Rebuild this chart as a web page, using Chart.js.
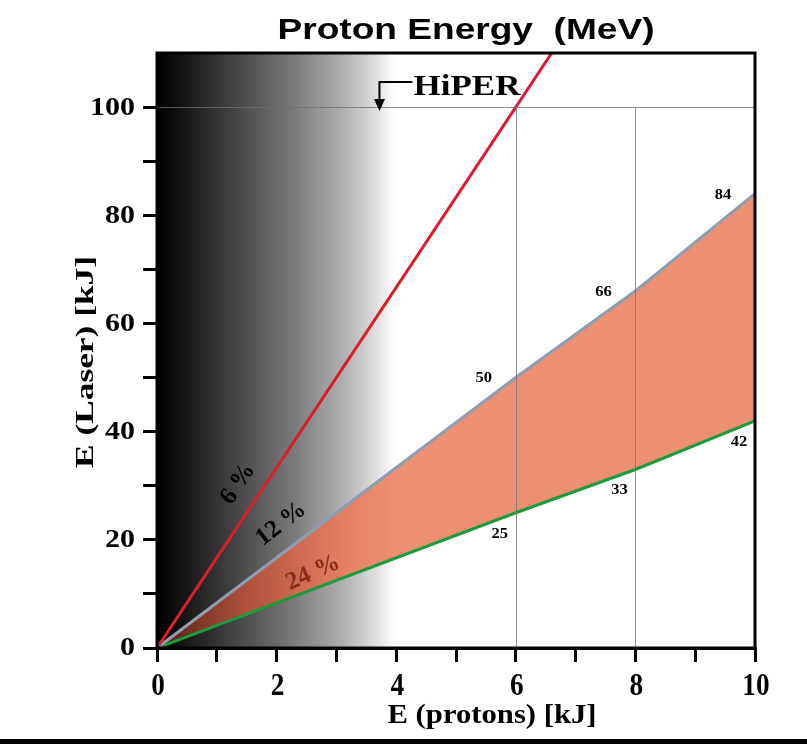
<!DOCTYPE html>
<html>
<head>
<meta charset="utf-8">
<script src="https://cdn.jsdelivr.net/npm/chart.js@4/dist/chart.umd.min.js"></script>
<style>
  html, body { margin: 0; padding: 0; background: #fff; }
  canvas { display: block; }
</style>
</head>
<body>
<canvas id="c" width="807" height="744"></canvas>
<script>
// Proton energy (kJ) on the x axis, laser energy (kJ) on the y axis
const protons = [0, 6, 8, 10];
const laser12 = [0, 50, 66, 84];   // 12 % conversion efficiency
const laser24 = [0, 25, 33, 42];   // 24 % conversion efficiency
const protons6 = [0, 6, 6.6];
const laser6 = [0, 100, 110];      // 6 % conversion efficiency
const effLabels = ['6 %', '12 %', '24 %'];
const xTickValues = [0, 1, 2, 3, 4, 5, 6, 7, 8, 9, 10];
const xTickLabels = ['0', '', '2', '', '4', '', '6', '', '8', '', '10'];
const yTickValues = [0, 10, 20, 30, 40, 50, 60, 70, 80, 90, 100];
const yTickLabels = ['0', '', '20', '', '40', '', '60', '', '80', '', '100'];
const titleText = 'Proton Energy  (MeV)';
const xTitle = 'E (protons) [kJ]';
const yTitle = 'E (Laser) [kJ]';
const hiperText = 'HiPER';
const hiperAt = { x: 3.72, y: 100 };

const SERIF = '"Liberation Serif", "Times New Roman", serif';
const SANS = '"Liberation Sans", Arial, sans-serif';

function pts(xs, ys) { return xs.map((x, i) => ({ x: x, y: ys[i] })); }

// text drawn with an optional horizontal stretch so it fills a given width
function drawText(ctx, text, x, y, opt) {
  ctx.save();
  ctx.font = opt.font;
  ctx.fillStyle = opt.color || '#000';
  ctx.textAlign = opt.align || 'center';
  ctx.textBaseline = opt.baseline || 'alphabetic';
  let sx = opt.sx || 1;
  if (opt.width) sx = opt.width / ctx.measureText(text).width;
  ctx.translate(x, y);
  if (opt.angle) ctx.rotate(opt.angle * Math.PI / 180);
  ctx.scale(sx, 1);
  ctx.fillText(text, 0, 0);
  ctx.restore();
}

// salmon band, darkened towards the origin
function bandFill(context) {
  const ch = context.chart;
  const a = ch.chartArea;
  if (!a) return 'rgba(239,145,118,1)';
  const x0 = a.left;
  const x1 = ch.scales.x.getPixelForValue(4);
  const g = ch.ctx.createLinearGradient(x0, 0, x1, 0);
  g.addColorStop(0.00, '#4a1c12');
  g.addColorStop(0.18, '#803828');
  g.addColorStop(0.40, '#b4543f');
  g.addColorStop(0.62, '#d26d55');
  g.addColorStop(0.82, '#e68468');
  g.addColorStop(1.00, '#ee9073');
  return g;
}

const backdrop = {
  id: 'backdrop',
  beforeDraw(chart) {
    const { ctx, chartArea: a, scales } = chart;
    const x1 = scales.x.getPixelForValue(3.97);
    const g = ctx.createLinearGradient(a.left, 0, x1, 0);
    g.addColorStop(0.00, '#000000');
    g.addColorStop(0.07, '#0c0c0c');
    g.addColorStop(0.33, '#454545');
    g.addColorStop(0.58, '#7b7b7b');
    g.addColorStop(0.80, '#b4b4b4');
    g.addColorStop(0.93, '#e2e2e2');
    g.addColorStop(1.00, '#ffffff');
    ctx.save();
    ctx.fillStyle = '#fff';
    ctx.fillRect(0, 0, chart.width, chart.height);
    ctx.fillStyle = g;
    ctx.fillRect(a.left, a.top, x1 - a.left, a.bottom - a.top);
    ctx.restore();
  },
  afterDatasetsDraw(chart) {
    const { ctx, chartArea: a, scales } = chart;
    const xs = scales.x, ys = scales.y;
    ctx.save();
    // reference grid: y = 100 across, x = 6 and x = 8 up to y = 100
    ctx.strokeStyle = 'rgba(110,110,110,0.75)';
    ctx.lineWidth = 1;
    const y100 = Math.round(ys.getPixelForValue(100)) + 0.5;
    ctx.beginPath();
    ctx.moveTo(a.left, y100); ctx.lineTo(a.right, y100);
    [6, 8].forEach(v => {
      const px = Math.round(xs.getPixelForValue(v)) + 0.5;
      ctx.moveTo(px, y100); ctx.lineTo(px, a.bottom);
    });
    ctx.stroke();

    // frame
    ctx.strokeStyle = '#000';
    ctx.lineWidth = 3;
    ctx.strokeRect(a.left, a.top, a.right - a.left, a.bottom - a.top);

    // HiPER marker
    const hx = xs.getPixelForValue(hiperAt.x);
    const hy = ys.getPixelForValue(hiperAt.y);
    ctx.lineWidth = 2;
    ctx.beginPath();
    ctx.moveTo(hx + 33, hy - 25);
    ctx.lineTo(hx, hy - 25);
    ctx.lineTo(hx, hy - 6);
    ctx.stroke();
    ctx.fillStyle = '#000';
    ctx.beginPath();
    ctx.moveTo(hx - 5.5, hy - 8);
    ctx.lineTo(hx + 5.5, hy - 8);
    ctx.lineTo(hx, hy + 4);
    ctx.closePath();
    ctx.fill();
    drawText(ctx, hiperText, hx + 34, hy - 12, { font: 'bold 29px ' + SERIF, align: 'left', width: 107 });

    // value labels along the two efficiency lines
    protons.forEach((p, i) => {
      if (i === 0) return;
      const px = xs.getPixelForValue(p);
      drawText(ctx, String(laser12[i]), px - 32, ys.getPixelForValue(laser12[i]) + 1,
        { font: 'bold 15px ' + SERIF, baseline: 'middle', sx: 1.1 });
      drawText(ctx, String(laser24[i]), px - 16, ys.getPixelForValue(laser24[i]) + 21,
        { font: 'bold 15px ' + SERIF, baseline: 'middle', sx: 1.1 });
    });

    // efficiency labels, rotated along each line
    drawText(ctx, effLabels[0], 238, 484, { font: 'bold 25px ' + SERIF, baseline: 'middle', angle: -57 });
    drawText(ctx, effLabels[1], 281, 524, { font: 'bold 25px ' + SERIF, baseline: 'middle', angle: -38 });
    drawText(ctx, effLabels[2], 313, 573, { font: 'bold 25px ' + SERIF, baseline: 'middle', angle: -24, color: '#8a2d1c' });
    ctx.restore();
  },
  afterDraw(chart) {
    const { ctx, scales } = chart;
    const xs = scales.x, ys = scales.y;
    // tick labels
    yTickValues.forEach((v, i) => {
      if (!yTickLabels[i]) return;
      drawText(ctx, yTickLabels[i], 135, ys.getPixelForValue(v) + 1,
        { font: 'bold 25px ' + SERIF, align: 'right', baseline: 'middle', sx: 1.2 });
    });
    xTickValues.forEach((v, i) => {
      if (!xTickLabels[i]) return;
      drawText(ctx, xTickLabels[i], xs.getPixelForValue(v) + 1, 695,
        { font: 'bold 31px ' + SERIF, sx: 0.88 });
    });
    // titles
    drawText(ctx, titleText, 466, 39, { font: 'bold 30px ' + SANS, width: 377 });
    drawText(ctx, xTitle, 492, 723, { font: 'bold 28px ' + SERIF, width: 209 });
    drawText(ctx, yTitle, 93, 362, { font: 'bold 26px ' + SERIF, angle: -90, width: 212 });
    // rule under the figure
    ctx.fillStyle = '#000';
    ctx.fillRect(0, 739, 807, 5);
  }
};

new Chart(document.getElementById('c'), {
  type: 'scatter',
  data: {
    datasets: [
      {
        label: effLabels[0],
        data: pts(protons6, laser6),
        showLine: true,
        borderColor: '#d91f2e',
        borderWidth: 3,
        pointRadius: 0,
        fill: false
      },
      {
        label: effLabels[1],
        data: pts(protons, laser12),
        showLine: true,
        borderColor: '#8f9db0',
        borderWidth: 3,
        pointRadius: 0,
        fill: '+1',
        backgroundColor: bandFill
      },
      {
        label: effLabels[2],
        data: pts(protons, laser24),
        showLine: true,
        borderColor: '#1d9a3c',
        borderWidth: 3,
        pointRadius: 0,
        fill: false
      }
    ]
  },
  options: {
    responsive: false,
    animation: false,
    devicePixelRatio: 1,
    layout: { padding: { left: 0, top: 53, right: 52, bottom: 0 } },
    plugins: {
      legend: { display: false },
      tooltip: { enabled: false },
      filler: { propagate: false, drawTime: 'beforeDatasetsDraw' }
    },
    scales: {
      x: {
        type: 'linear',
        min: 0,
        max: 10,
        afterBuildTicks(s) { s.ticks = xTickValues.map(v => ({ value: v })); },
        afterFit(s) { s.height = 96; },
        ticks: { color: 'rgba(0,0,0,0)', autoSkip: false, font: { size: 10 } },
        grid: { display: true, drawOnChartArea: false, drawTicks: true, tickLength: 14, lineWidth: 3, color: '#000' },
        border: { display: true, width: 3, color: '#000' }
      },
      y: {
        type: 'linear',
        min: 0,
        max: 110,
        afterBuildTicks(s) { s.ticks = yTickValues.map(v => ({ value: v })); },
        afterFit(s) { s.width = 157; },
        ticks: { color: 'rgba(0,0,0,0)', autoSkip: false, font: { size: 10 } },
        grid: { display: true, drawOnChartArea: false, drawTicks: true, tickLength: 14, lineWidth: 3, color: '#000' },
        border: { display: true, width: 3, color: '#000' }
      }
    }
  },
  plugins: [backdrop]
});
</script>
</body>
</html>
